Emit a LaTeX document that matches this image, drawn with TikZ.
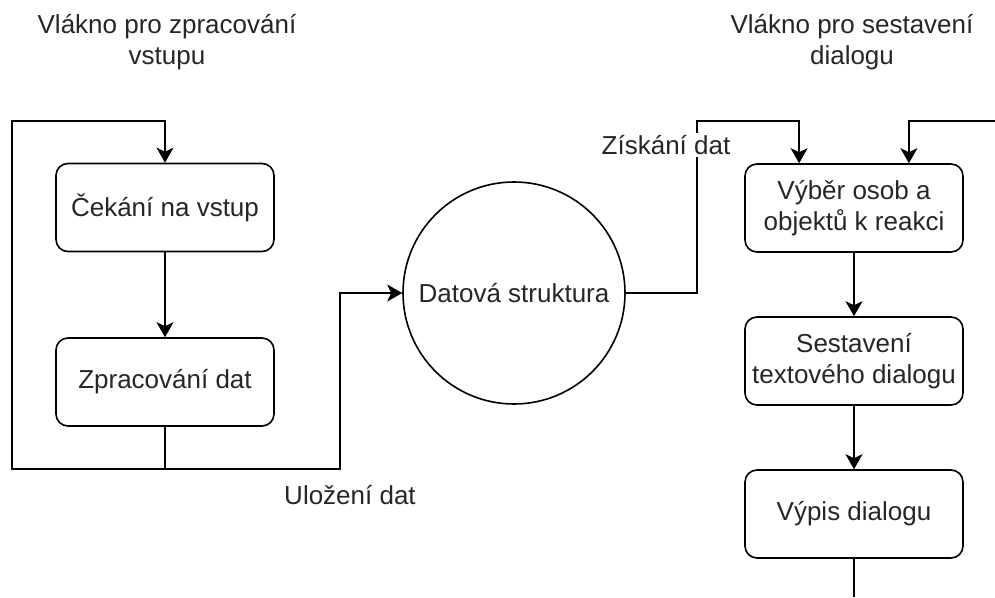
\documentclass[tikz,border=0pt]{standalone}
\usepackage{fontspec}
\setmainfont{Liberation Sans}
\usetikzlibrary{arrows.meta,calc}
\begin{document}
\begin{tikzpicture}[x=1pt,y=-1pt,
  every node/.style={text=black!85, font=\fontsize{26}{31}\selectfont},
  flow/.style={line width=1.6pt, draw=black},
  arr/.style={flow, -{Stealth[length=15pt,width=17pt,inset=4pt]}},
  stepbox/.style={draw=black, line width=1.6pt, rounded corners=12pt,
    minimum width=218pt, minimum height=88pt, align=center, inner sep=0pt},
  store/.style={circle, draw=black, line width=1.6pt, minimum size=222pt, inner sep=0pt},
  title/.style={align=center},
  lbl/.style={fill=white, inner sep=2pt}]
\useasboundingbox (0,0) rectangle (995,597);

% column titles
\node[title] (t1) at (167,42) {Vlákno pro zpracování\\vstupu};
\node[title] (t2) at (852,42) {Vlákno pro sestavení\\dialogu};

% input thread
\node[stepbox] (b1) at (165,207.5) {Čekání na vstup};
\node[stepbox] (b2) at (165,382) {Zpracování dat};

% shared data structure
\node[store] (ds) at (514,293) {Datová struktura};

% dialogue thread
\node[stepbox] (r1) at (854,208) {Výběr osob a\\objektů k reakci};
\node[stepbox] (r2) at (854,361) {Sestavení\\textového dialogu};
\node[stepbox] (r3) at (854,514) {Výpis dialogu};

% routing points
\coordinate (j1) at (165,469);
\coordinate (lb) at (12,469);
\coordinate (lt) at (12,121);
\coordinate (ltop) at (165,121);
\coordinate (sx) at (340,469);
\coordinate (sy) at (340,293);
\coordinate (gx) at (697,293);
\coordinate (gy) at (697,121);
\coordinate (r1a) at ($(r1.north west)!0.25!(r1.north east)$);
\coordinate (r1b) at ($(r1.north west)!0.75!(r1.north east)$);
\coordinate (in) at (995,121);
\coordinate (out) at (854,597);

% input loop
\draw[arr] (b1) -- (b2);
\draw[arr] (b2.south) -- (j1) -- (lb) -- (lt) -- (ltop) -- (b1.north);
\draw[arr] (b2.south) -- (j1) -- (sx) -- (sy) -- (ds.west);

% dialogue loop
\draw[arr] (ds.east) -- (gx) -- (gy) -- (gy -| r1a) -- (r1a);
\draw[arr] (in) -- (in -| r1b) -- (r1b);
\draw[arr] (r1) -- (r2);
\draw[arr] (r2) -- (r3);
\draw[flow] (r3.south) -- (out);

% edge labels
\node (l1) at (350,495) {Uložení dat};
\node[lbl] (l2) at (666,145) {Získání dat};
\end{tikzpicture}
\end{document}
